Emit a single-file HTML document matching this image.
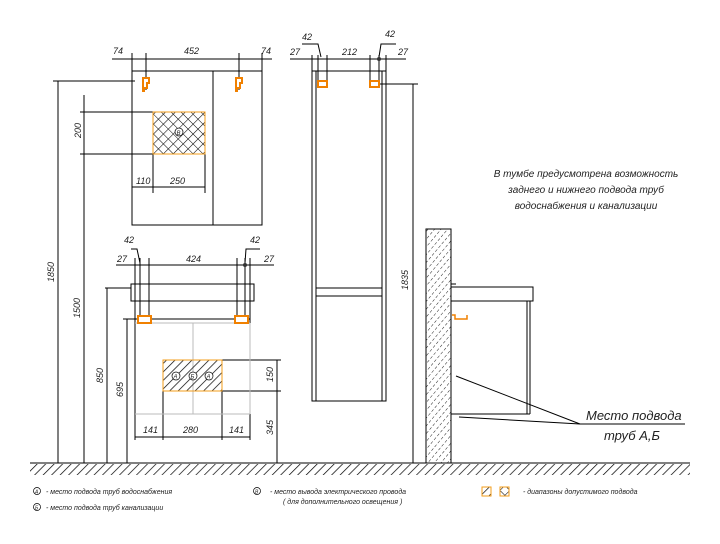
<!DOCTYPE html>
<html><head><meta charset="utf-8"><style>
html,body{margin:0;padding:0;background:#fff}
svg{display:block}
text{font-family:"Liberation Sans","DejaVu Sans",sans-serif;font-style:italic;fill:#222}
</style></head><body>
<svg width="720" height="544" viewBox="0 0 720 544" xmlns="http://www.w3.org/2000/svg">
<defs>
<pattern id="h" width="6" height="6" patternUnits="userSpaceOnUse" patternTransform="rotate(45)"><line x1="0" y1="0" x2="0" y2="6" stroke="#000" stroke-width="1.4"/></pattern>
<pattern id="hw" width="5" height="5" patternUnits="userSpaceOnUse" patternTransform="rotate(40)"><line x1="0" y1="0" x2="0" y2="3" stroke="#222" stroke-width="1"/></pattern>
<pattern id="x" width="7" height="7" patternUnits="userSpaceOnUse" patternTransform="rotate(45)"><path d="M0 0V7M0 0H7" stroke="#000" stroke-width="1.1" fill="none"/></pattern>
</defs>
<g stroke="#000" stroke-width="1" fill="none">
<line x1="30" y1="463" x2="690" y2="463"/>
</g>
<rect x="30" y="464" width="660" height="11" fill="url(#h)"/>
<!-- mirror -->
<g stroke="#000" fill="none" stroke-width="1">
<rect x="132" y="71" width="130" height="154"/>
<line x1="213" y1="71" x2="213" y2="225"/>
<line x1="112" y1="59" x2="272" y2="59"/>
<line x1="132" y1="53" x2="132" y2="71"/><line x1="262" y1="53" x2="262" y2="71"/>
<line x1="146" y1="53" x2="146" y2="90"/><line x1="239" y1="53" x2="239" y2="90"/>
<line x1="53" y1="81" x2="135" y2="81"/>
<line x1="80" y1="112" x2="153" y2="112"/><line x1="80" y1="154" x2="153" y2="154"/>
<line x1="84" y1="95" x2="84" y2="463"/>
<line x1="58" y1="81" x2="58" y2="463"/>
<line x1="153" y1="154" x2="153" y2="193"/><line x1="205" y1="154" x2="205" y2="193"/>
<line x1="132" y1="187" x2="205" y2="187"/>
</g>
<rect x="153" y="112" width="52" height="42" fill="url(#x)" stroke="#f39c1a" stroke-width="1"/>
<circle cx="179" cy="132" r="4" fill="#fff" stroke="#000" stroke-width="0.7"/>
<text x="176.5" y="135" font-size="6">В</text>
<path d="M143 78h6v5h-2v5h-3v3h-1z M236 78h6v5h-2v5h-3v3h-1z" fill="#fff" stroke="#f08000" stroke-width="2"/>
<g font-size="9">
<text x="113" y="54">74</text><text x="184" y="54">452</text><text x="261" y="54">74</text>
<text x="136" y="184">110</text><text x="170" y="184">250</text>
<text transform="translate(81,138) rotate(-90)">200</text>
<text transform="translate(54,282) rotate(-90)">1850</text>
<text transform="translate(80,318) rotate(-90)">1500</text>
<text transform="translate(103,383) rotate(-90)">850</text>
<text transform="translate(123,397) rotate(-90)">695</text>
</g>
<!-- vanity -->
<g stroke="#000" fill="none" stroke-width="1">
<line x1="116" y1="265" x2="274" y2="265"/>
<line x1="135" y1="258" x2="135" y2="323"/><line x1="250" y1="258" x2="250" y2="323"/>
<line x1="140" y1="258" x2="140" y2="319"/><line x1="149" y1="258" x2="149" y2="319"/>
<line x1="237" y1="258" x2="237" y2="319"/><line x1="245" y1="258" x2="245" y2="319"/>
<path d="M140 263 L137 249 H131 M245 263 L246 249 H260"/>
<rect x="131" y="284" width="123" height="17"/>
<line x1="105" y1="288" x2="131" y2="288"/>
<line x1="123" y1="319" x2="250" y2="319"/>
<line x1="107" y1="288" x2="107" y2="463"/>
<line x1="127" y1="319" x2="127" y2="463"/>
<line x1="135" y1="323" x2="135" y2="440"/>
<line x1="163" y1="391" x2="163" y2="440"/><line x1="222" y1="391" x2="222" y2="440"/>
<line x1="250" y1="414" x2="250" y2="440"/>
<line x1="135" y1="437" x2="250" y2="437"/>
<line x1="222" y1="360" x2="281" y2="360"/><line x1="222" y1="391" x2="281" y2="391"/>
<line x1="277" y1="360" x2="277" y2="463"/>
</g>
<g stroke="#bbb" fill="none"><line x1="135" y1="323" x2="250" y2="323"/><line x1="193" y1="323" x2="193" y2="414"/><line x1="135" y1="414" x2="250" y2="414"/><line x1="250" y1="323" x2="250" y2="414"/></g>
<circle cx="245" cy="265" r="2" fill="#333"/>
<rect x="163" y="360" width="59" height="31" fill="url(#h)" stroke="#f39c1a"/>
<g fill="#fff" stroke="#000" stroke-width="0.7"><circle cx="176" cy="376" r="4"/><circle cx="193" cy="376" r="4"/><circle cx="209" cy="376" r="4"/></g>
<g font-size="6"><text x="173.5" y="378.5">А</text><text x="190.5" y="378.5">Б</text><text x="206.5" y="378.5">А</text></g>
<path d="M138 316h13v7h-13z M235 316h13v7h-13z" fill="#fff" stroke="#f08000" stroke-width="2"/>
<g font-size="9">
<text x="124" y="243">42</text><text x="250" y="243">42</text>
<text x="117" y="262">27</text><text x="186" y="262">424</text><text x="264" y="262">27</text>
<text x="143" y="433">141</text><text x="183" y="433">280</text><text x="229" y="433">141</text>
<text transform="translate(273,382) rotate(-90)">150</text>
<text transform="translate(273,435) rotate(-90)">345</text>
</g>
<!-- tall cabinet -->
<g stroke="#000" fill="none" stroke-width="1">
<rect x="312" y="71" width="74" height="330"/>
<rect x="316" y="71" width="66" height="330"/>
<line x1="316" y1="288" x2="382" y2="288"/><line x1="316" y1="296" x2="382" y2="296"/>
<line x1="290" y1="59" x2="406" y2="59"/>
<line x1="312" y1="55" x2="312" y2="71"/><line x1="386" y1="55" x2="386" y2="71"/>
<line x1="318" y1="55" x2="318" y2="84"/><line x1="327" y1="55" x2="327" y2="84"/>
<line x1="370" y1="55" x2="370" y2="84"/><line x1="379" y1="55" x2="379" y2="84"/>
<path d="M321 57 L318 44 H302 M379 57 L381 44 H396"/>
<line x1="380" y1="84" x2="418" y2="84"/>
<line x1="413" y1="84" x2="413" y2="463"/>
</g>
<circle cx="379" cy="59" r="2" fill="#333"/>
<path d="M318 81h9v6h-9z M370 81h9v6h-9z" fill="#fff" stroke="#f08000" stroke-width="2"/>
<g font-size="9">
<text x="302" y="40">42</text><text x="385" y="37">42</text>
<text x="290" y="55">27</text><text x="342" y="55">212</text><text x="398" y="55">27</text>
<text transform="translate(408,290) rotate(-90)">1835</text>
</g>
<!-- wall & side view -->
<rect x="426" y="229" width="25" height="234" fill="url(#hw)" stroke="#000"/>
<g stroke="#000" fill="none" stroke-width="1">
<rect x="451" y="287" width="82" height="14"/>
<rect x="451" y="301" width="76" height="113"/>
<line x1="527" y1="301" x2="530" y2="301"/><line x1="530" y1="301" x2="530" y2="414"/><line x1="527" y1="414" x2="530" y2="414"/>
<line x1="451" y1="284" x2="456" y2="284"/>
<line x1="456" y1="376" x2="580" y2="424"/>
<line x1="459" y1="417" x2="580" y2="424"/>
<line x1="580" y1="424" x2="685" y2="424"/>
</g>
<path d="M452 315h3v4h12v-4" fill="none" stroke="#f08000" stroke-width="1.5"/>
<g font-size="13"><text x="586" y="420">Место  подвода</text><text x="604" y="440">труб  А,Б</text></g>
<g font-size="10" text-anchor="middle"><text x="586" y="177">В тумбе предусмотрена возможность</text><text x="586" y="193">заднего и нижнего подвода труб</text><text x="586" y="209">водоснабжения и канализации</text></g>
<!-- legend -->
<g font-size="7">
<circle cx="37" cy="491" r="3.5" fill="none" stroke="#000" stroke-width="0.7"/><text x="35" y="493.5" font-size="5">А</text><text x="46" y="494">- место подвода труб водоснабжения</text>
<circle cx="37" cy="507" r="3.5" fill="none" stroke="#000" stroke-width="0.7"/><text x="35" y="509.5" font-size="5">Б</text><text x="46" y="510">- место подвода труб канализации</text>
<circle cx="257" cy="491" r="3.5" fill="none" stroke="#000" stroke-width="0.7"/><text x="255" y="493.5" font-size="5">В</text><text x="270" y="494">- место вывода электрического провода</text>
<text x="283" y="504">( для дополнительного освещения )</text>
<rect x="482" y="487" width="9" height="9" fill="url(#h)" stroke="#f39c1a"/>
<rect x="500" y="487" width="9" height="9" fill="url(#x)" stroke="#f39c1a"/>
<text x="523" y="494">- диапазоны допустимого подвода</text>
</g>
</svg>
</body></html>
